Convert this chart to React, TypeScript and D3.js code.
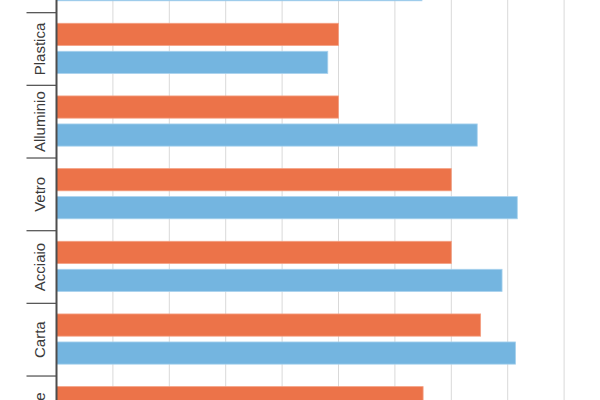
import React from "react";
import * as d3 from "d3";

const categories = ["Legno", "Plastica", "Alluminio", "Vetro", "Acciaio", "Carta", "Totale"];
const targetValues = [25, 50, 50, 70, 70, 75.2, 65];
const actualValues = [64.8, 48.1, 74.6, 81.7, 79, 81.4, 73];
const series = ["target", "actual"];
const gridTicks = [10, 20, 30, 40, 50, 60, 70, 80, 90, 100];

const W = 600;
const H = 400;
const colors: Record<string, string> = { target: "#EC7349", actual: "#74B5E0" };
const strokes: Record<string, string> = { target: "#F4A083", actual: "#A9D2EE" };

export default function App() {
  const x = d3.scaleLinear().domain([0, 100]).range([56.5, 620.5]);
  const y = d3.scaleBand<string>().domain(categories).range([-60, 448.7]).padding(0);
  const sub = d3
    .scaleBand<string>()
    .domain(series)
    .range([10.6, 60.8])
    .paddingInner(0.207)
    .paddingOuter(0);

  const boundaries = categories.map((c) => y(c)!).concat([y.range()[1]]);

  return (
    <svg
      width={W}
      height={H}
      style={{ position: "absolute", left: 0, top: 0, background: "#fff" }}
      fontFamily="'Liberation Sans', Arial, sans-serif"
    >
      {gridTicks.map((t) => (
        <line
          key={t}
          x1={x(t)}
          x2={x(t)}
          y1={0}
          y2={H}
          stroke="#D9D9D9"
          strokeWidth={1}
        />
      ))}
      {categories.map((c, i) => {
        const vals: Record<string, number> = { target: targetValues[i], actual: actualValues[i] };
        return (
          <g key={c}>
            {series.map((s) => (
              <rect
                key={s}
                x={x(0)}
                y={y(c)! + sub(s)!}
                width={x(vals[s]) - x(0)}
                height={sub.bandwidth()}
                fill={colors[s]}
                stroke={strokes[s]}
                strokeWidth={0.8}
              />
            ))}
            <text
              transform={`translate(45,${y(c)! + y.bandwidth() / 2}) rotate(-90)`}
              textAnchor="middle"
              fontSize={15}
              fill="#3A3A3A"
            >
              {c}
            </text>
          </g>
        );
      })}
      {boundaries.map((b, i) => (
        <line key={i} x1={26.5} x2={56.5} y1={b} y2={b} stroke="#595959" strokeWidth={1.3} />
      ))}
      <line x1={56.5} x2={56.5} y1={0} y2={H} stroke="#4D4D4D" strokeWidth={2} />
    </svg>
  );
}
